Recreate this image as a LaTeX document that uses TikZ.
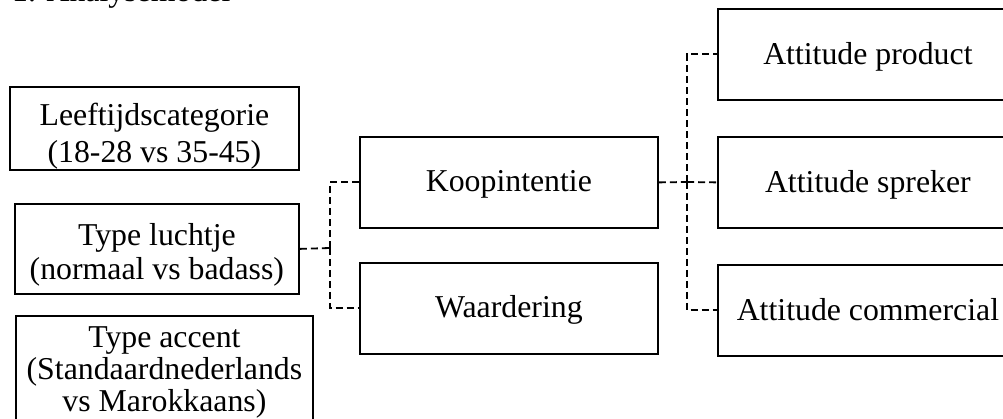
\documentclass[tikz,border=0pt]{standalone}
\usepackage{fontspec}
\setmainfont{Liberation Serif}
\newcommand\mystack[2]{\vbox{\baselineskip=#1pt\lineskiplimit=-100pt\lineskip=0pt\halign{\hfil##\hfil\cr#2\crcr}}}
\begin{document}
\begin{tikzpicture}[x=1pt,y=-1pt,
  txt/.style={font=\fontsize{31.8}{36}\selectfont},
  box/.style={txt,draw,line width=1.8pt,inner sep=0pt,anchor=north west},
  link/.style={line width=1.8pt,dash pattern=on 7pt off 4pt}]
\useasboundingbox (0,0) rectangle (1003,419);
\clip (0,0) rectangle (1003,419);
% title (cut off at top)
\node[txt,inner sep=0pt,anchor=base west] (title) at (12,2) {1. Analysemodel};
% left boxes
\node[box,minimum width=289pt,text height=76pt,text depth=7.5pt] (L1) at (9,86)
  {\mystack{37}{Leeftijdscategorie\cr(18-28 vs 35-45)}};
\node[box,minimum width=284pt,text height=76pt,text depth=14pt] (L2) at (14,203)
  {\mystack{34}{Type luchtje\cr(normaal vs badass)}};
\node[box,minimum width=297pt,text height=96pt,text depth=29pt] (L3) at (15,315)
  {\mystack{32}{Type accent\cr(Standaardnederlands\cr vs Marokkaans)}};
% middle boxes
\node[box,minimum width=298pt,text height=55pt,text depth=36pt] (K) at (359,136) {Koopintentie};
\node[box,minimum width=298pt,text height=55pt,text depth=36pt] (W) at (359,262) {Waardering};
% right boxes
\node[box,minimum width=300pt,text height=55.5pt,text depth=35.5pt] (A1) at (717,8) {Attitude product};
\node[box,minimum width=300pt,text height=55.5pt,text depth=35.5pt] (A2) at (717,136) {Attitude spreker};
\node[box,minimum width=300pt,text height=55.5pt,text depth=35.5pt] (A3) at (717,264) {Attitude commercial};
% connectors
\coordinate (jL) at (330,248);
\coordinate (jR) at (687,182);
\draw[link] (L2.east) -- (jL);
\draw[link] (jL) |- (K.west);
\draw[link] (jL) |- (W.west);
\draw[link] (K.east) -- (jR);
\draw[link] (jR) |- (A1.west);
\draw[link] (jR) -- (A2.west);
\draw[link] (jR) |- (A3.west);
\end{tikzpicture}
\end{document}
